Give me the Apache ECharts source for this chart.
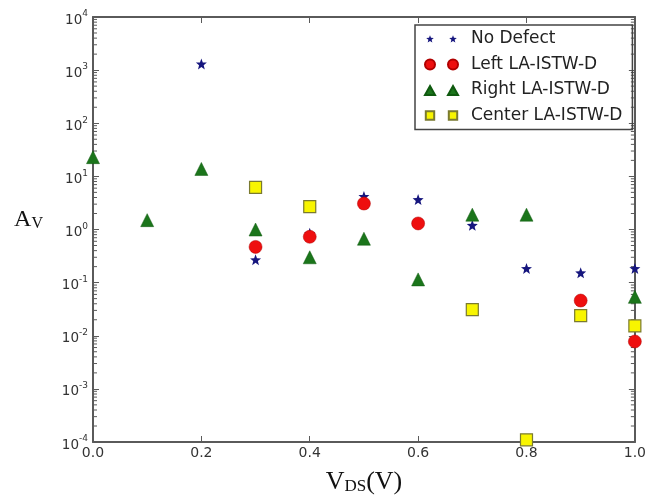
<!DOCTYPE html>
<html><head><meta charset="utf-8">
<script src="https://cdn.jsdelivr.net/npm/echarts@6/dist/echarts.min.js"></script>
<style>html,body{margin:0;padding:0;background:#fff}#c{width:649px;height:500px}</style>
</head><body><div id="c"></div>
<script>
const xTicks = [0.0, 0.2, 0.4, 0.6, 0.8, 1.0];
const yDecades = [-4, -3, -2, -1, 0, 1, 2, 3, 4];
const minorMultipliers = [2, 3, 4, 5, 6, 7, 8, 9];
const noDefect = [[0.2, 1310], [0.3, 0.27], [0.4, 0.85], [0.5, 4.2], [0.6, 3.66], [0.7, 1.2], [0.8, 0.185], [0.9, 0.153], [1.0, 0.185]];
const leftD = [[0.3, 0.47], [0.4, 0.73], [0.5, 3.08], [0.6, 1.3], [0.9, 0.046], [1.0, 0.0078]];
const rightD = [[0.0, 23], [0.1, 1.5], [0.2, 13.8], [0.3, 1.0], [0.4, 0.30], [0.5, 0.67], [0.6, 0.115], [0.7, 1.9], [0.8, 1.9], [1.0, 0.054]];
const centerD = [[0.3, 6.2], [0.4, 2.7], [0.7, 0.031], [0.8, 0.00011], [0.9, 0.024], [1.0, 0.0153]];

const minorVals = [];
yDecades.slice(0, -1).forEach(d => minorMultipliers.forEach(m => minorVals.push(m * Math.pow(10, d))));

function starAt(cx, cy, r) {
  let s = '';
  for (let i = 0; i < 10; i++) {
    const ang = -Math.PI / 2 + i * Math.PI / 5;
    const rr = i % 2 === 0 ? r : r * 0.42;
    s += (i === 0 ? 'M' : 'L') + (cx + rr * Math.cos(ang)).toFixed(2) + ',' + (cy + rr * Math.sin(ang)).toFixed(2) + ' ';
  }
  return s + 'Z ';
}
const starPath = 'path://' + starAt(10, 10.5, 10);
const star2 = 'path://M0,0 ' + starAt(4.5, 5.2, 4) + starAt(27.5, 5.2, 4) + 'M32,10 ';
const circ2 = 'path://M0,5 A5,5 0 1,0 10,5 A5,5 0 1,0 0,5 Z M23,5 A5,5 0 1,0 33,5 A5,5 0 1,0 23,5 Z';
const tri2 = 'path://M0,0 M5,1 L10,10 L0,10 Z M28,1 L33,10 L23,10 Z M33,0';
const sq2 = 'path://M0.8,0.8 L9.2,0.8 L9.2,9.2 L0.8,9.2 Z M23.8,0.8 L32.2,0.8 L32.2,9.2 L23.8,9.2 Z M0,0 M33,10';

const axisCol = '#5a5a5a';
function powLabel(v) {
  const e = Math.round(Math.log10(v));
  return '{b|10}{e|' + e + '}';
}
const powRich = {
  b: {fontSize: 13.5, color: '#333', fontFamily: 'DejaVu Sans', padding: [6, 0, 0, 0]},
  e: {fontSize: 9, color: '#333', fontFamily: 'DejaVu Sans', padding: [0, 0, 6, 0]}
};
function logAxis(extra) {
  return Object.assign({type: 'log', logBase: 10, min: 1e-4, max: 1e4, splitNumber: 8,
    splitLine: {show: false}}, extra);
}

const chart = echarts.init(document.getElementById('c'));
chart.setOption({
  animation: false,
  backgroundColor: '#fff',
  grid: {left: 93, right: 8, top: 17, bottom: 57},
  legend: {
    orient: 'vertical', left: 415, top: 25,
    padding: [4, 10, 4, 9], itemGap: 5.5,
    itemWidth: 33, itemHeight: 10,
    borderColor: '#444', borderWidth: 1.5, borderRadius: 0,
    textStyle: {fontSize: 17, color: '#222', fontFamily: 'DejaVu Sans', lineHeight: 20, padding: [0, 0, 0, 8]},
    data: [
      {name: 'No Defect', icon: star2},
      {name: 'Left LA-ISTW-D', icon: circ2},
      {name: 'Right LA-ISTW-D', icon: tri2},
      {name: 'Center LA-ISTW-D', icon: sq2}
    ]
  },
  xAxis: [{
    type: 'value', min: 0, max: 1, interval: 0.2,
    name: '{v|V}{s|DS}{v|(V)}', nameLocation: 'middle', nameGap: 27,
    nameTextStyle: {rich: {
      v: {fontSize: 26, fontFamily: 'Liberation Serif', color: '#111'},
      s: {fontSize: 17, fontFamily: 'Liberation Serif', color: '#111', padding: [9, 0, 0, 0]}
    }},
    axisLine: {show: true, onZero: false, lineStyle: {color: axisCol, width: 2}},
    axisTick: {show: true, inside: true, length: 6, lineStyle: {color: axisCol, width: 1}},
    axisLabel: {fontSize: 14, color: '#333', fontFamily: 'DejaVu Sans', margin: 4,
      formatter: v => v.toFixed(1)},
    splitLine: {show: false}
  }, {
    type: 'value', position: 'top', min: 0, max: 1, interval: 0.2,
    axisLine: {show: true, onZero: false, lineStyle: {color: axisCol, width: 2}},
    axisTick: {show: true, inside: true, length: 6, lineStyle: {color: axisCol, width: 1}},
    axisLabel: {show: false}, splitLine: {show: false}
  }],
  yAxis: [logAxis({
    position: 'left',
    name: '{a|A}{s|V}', nameLocation: 'middle', nameRotate: 0, nameGap: 50,
    nameTextStyle: {padding: [0, 0, 20, 0], rich: {
      a: {fontSize: 24, fontFamily: 'Liberation Serif', color: '#111'},
      s: {fontSize: 16, fontFamily: 'Liberation Serif', color: '#111', padding: [8, 0, 0, 0]}
    }},
    axisLine: {show: true, onZero: false, lineStyle: {color: axisCol, width: 2}},
    axisTick: {show: true, inside: true, length: 6, lineStyle: {color: axisCol, width: 1}},
    axisLabel: {formatter: powLabel, rich: powRich, margin: 5}
  }), logAxis({
    position: 'right',
    axisLine: {show: true, onZero: false, lineStyle: {color: axisCol, width: 2}},
    axisTick: {show: true, inside: true, length: 6, lineStyle: {color: axisCol, width: 1}},
    axisLabel: {show: false}
  })],
  series: [
    {type: 'custom', name: 'minorTicks', silent: true, z: 1, clip: false,
      xAxisIndex: 0, yAxisIndex: 0,
      data: minorVals.map(v => [0, v]),
      encode: {x: 0, y: 1},
      renderItem: function (params, api) {
        const l = api.coord([0, api.value(1)]);
        const r = api.coord([1, api.value(1)]);
        const st = {stroke: axisCol, lineWidth: 1};
        return {type: 'group', children: [
          {type: 'line', shape: {x1: l[0], y1: l[1], x2: l[0] + 4, y2: l[1]}, style: st},
          {type: 'line', shape: {x1: r[0] - 4, y1: r[1], x2: r[0], y2: r[1]}, style: st}
        ]};
      }},
    {name: 'No Defect', type: 'scatter', data: noDefect, symbol: starPath, symbolSize: 11,
      itemStyle: {color: '#16167e', opacity: 1}, z: 2},
    {name: 'Left LA-ISTW-D', type: 'scatter', data: leftD, symbol: 'circle', symbolSize: 13,
      itemStyle: {color: '#ee0f0f', borderColor: '#b00000', borderWidth: 0.5, opacity: 1}, z: 3},
    {name: 'Right LA-ISTW-D', type: 'scatter', data: rightD, symbol: 'triangle', symbolSize: 13,
      itemStyle: {color: '#1b751b', borderColor: '#0f5a0f', borderWidth: 0.5, opacity: 1}, z: 4},
    {name: 'Center LA-ISTW-D', type: 'scatter', data: centerD, symbol: 'rect', symbolSize: 12,
      itemStyle: {color: '#f8f500', borderColor: '#7a7a30', borderWidth: 1.2, opacity: 1}, z: 5}
  ]
});
</script></body></html>
